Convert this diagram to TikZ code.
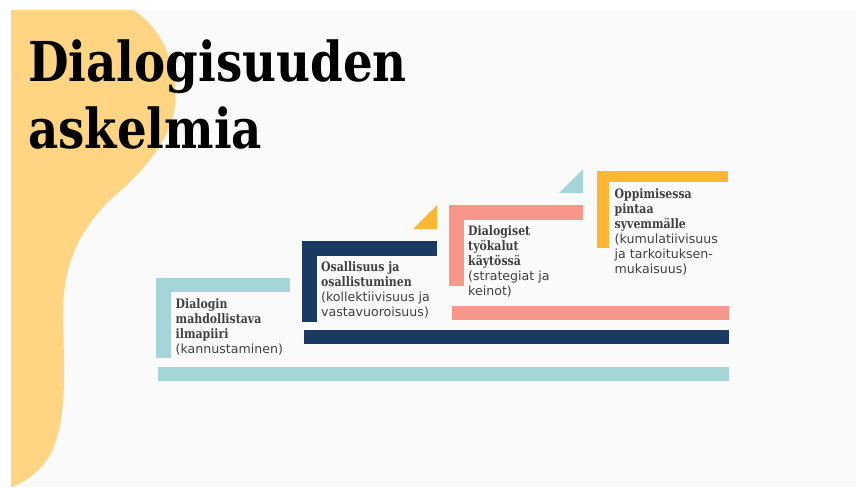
\documentclass[tikz,border=0pt]{standalone}
\usepackage{fontspec}
\setmainfont{DejaVu Sans}
\newfontface\titlefont[FakeStretch=0.85]{DejaVu Serif Bold}
\newfontface\slabfont[FakeStretch=0.84]{DejaVu Serif Bold}
\usepackage{tikz}
\usetikzlibrary{backgrounds,calc}
\definecolor{blob}{HTML}{FFD583}
\definecolor{slide}{HTML}{FAFAFA}
\definecolor{tealbar}{HTML}{A5D5D7}
\definecolor{navybar}{HTML}{1B3A63}
\definecolor{salmonbar}{HTML}{F7978A}
\definecolor{goldbar}{HTML}{FDB733}
\definecolor{labeltext}{HTML}{404040}

\begin{document}
\begin{tikzpicture}[x=1pt,y=-1pt,
  steplabel/.style={anchor=base west,inner sep=0pt,align=left,text=labeltext,
    font=\fontsize{12.6}{15}\selectfont},
  titletext/.style={anchor=base west,inner sep=0pt,align=left,
    font=\titlefont\fontsize{55}{67}\selectfont}]
\useasboundingbox (0,0) rectangle (856,487);
\fill[white] (0,0) rectangle (856,487);
\fill[slide] (11,10) rectangle (856,487);
% yellow shape on the left
\fill[blob] (11,10) -- (133,10)
  .. controls (165,30) and (178,70) .. (175,105)
  .. controls (172,140) and (140,175) .. (110,200)
  .. controls (75,235) and (62,270) .. (63,320)
  .. controls (64,370) and (68,420) .. (50,455)
  .. controls (40,472) and (25,482) .. (12,487)
  -- (11,487) -- cycle;
% base = last line
\node[titletext] (title) at (28,148) {Dialogisuuden\\askelmia};
% steps
\fill[tealbar] (156,278) rectangle (170.5,358);
\fill[tealbar] (156,278) rectangle (290,292);
\fill[tealbar] (158,367) rectangle (729,381);
\fill[navybar] (302,241) rectangle (316.5,322);
\fill[navybar] (302,241) rectangle (437,255.5);
\fill[navybar] (304,330) rectangle (729,344);
\fill[goldbar] (413,229) -- (437,229) -- (437,205) -- cycle;
\fill[salmonbar] (449,205) rectangle (463.5,286);
\fill[salmonbar] (449,205) rectangle (583,219.5);
\fill[salmonbar] (452,306) rectangle (729,320);
\fill[tealbar] (559,193) -- (583,193) -- (583,169) -- cycle;
\fill[goldbar] (597,171) rectangle (609,248);
\fill[goldbar] (597,171) rectangle (728,182);
% step texts
\node[steplabel] (ilmapiiri) at (175.5,353)
  {{\slabfont\fontsize{13}{15}\selectfont Dialogin}\\{\slabfont\fontsize{13}{15}\selectfont mahdollistava}\\{\slabfont\fontsize{13}{15}\selectfont ilmapiiri}\\(kannustaminen)};
\node[steplabel] (osallisuus) at (321,316)
  {{\slabfont\fontsize{13}{15}\selectfont Osallisuus ja}\\{\slabfont\fontsize{13}{15}\selectfont osallistuminen}\\(kollektiivisuus ja\\vastavuoroisuus)};
\node[steplabel] (tyokalut) at (468,295)
  {{\slabfont\fontsize{13}{15}\selectfont Dialogiset}\\{\slabfont\fontsize{13}{15}\selectfont työkalut}\\{\slabfont\fontsize{13}{15}\selectfont käytössä}\\(strategiat ja\\keinot)};
\node[steplabel] (syvemmalle) at (614.5,273)
  {{\slabfont\fontsize{13}{15}\selectfont Oppimisessa}\\{\slabfont\fontsize{13}{15}\selectfont pintaa}\\{\slabfont\fontsize{13}{15}\selectfont syvemmälle}\\(kumulatiivisuus\\ja tarkoituksen-\\mukaisuus)};
\end{tikzpicture}
\end{document}
